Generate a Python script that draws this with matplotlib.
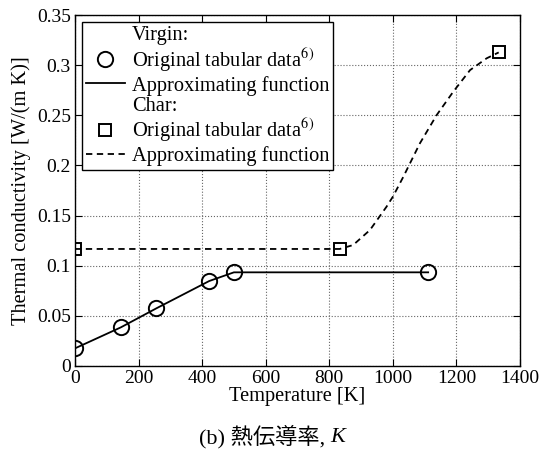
import matplotlib
matplotlib.use('Agg')
import matplotlib.pyplot as plt
from matplotlib.lines import Line2D
from matplotlib.ticker import FuncFormatter

plt.rcParams['font.family'] = ['Liberation Serif', 'Noto Sans CJK JP']
plt.rcParams['mathtext.fontset'] = 'stix'
plt.rcParams['font.size'] = 14.7

# virgin material: tabular data and approximating function
virgin_T = [0, 144, 256, 422, 500, 1111]
virgin_k = [0.0176, 0.0385, 0.0575, 0.0847, 0.0934, 0.0934]

# char: tabular data
char_T = [0, 833, 1333]
char_k = [0.1167, 0.1167, 0.3127]

# char approximating function
char_fit_T = [0, 833, 875, 928, 980, 1000, 1033, 1085, 1138, 1190, 1243, 1295, 1333]
char_fit_k = [0.1167, 0.1167, 0.1206, 0.1356, 0.1588, 0.1688, 0.1887, 0.222,
              0.2503, 0.2735, 0.2951, 0.3068, 0.3127]

fig = plt.figure(figsize=(5.41, 4.53), dpi=100)
ax = fig.add_axes([75/541, 1 - 366/453, 445/541, 351/453])

ax.plot(virgin_T, virgin_k, '-', color='k', lw=1.3)
ax.plot(virgin_T, virgin_k, 'o', mfc='none', mec='k', ms=11, mew=1.4)
ax.plot(char_fit_T, char_fit_k, '--', color='k', lw=1.3, dashes=(3.5, 2.5))
ax.plot(char_T, char_k, 's', mfc='none', mec='k', ms=8, mew=1.4)

ax.set_xlim(0, 1400)
ax.set_ylim(0, 0.35)
ax.set_xticks(range(0, 1401, 200))
ax.set_yticks([0, 0.05, 0.1, 0.15, 0.2, 0.25, 0.3, 0.35])
ax.yaxis.set_major_formatter(FuncFormatter(lambda v, p: '%g' % round(v, 2)))
ax.tick_params(direction='in', top=True, right=True, length=5, width=0.8,
               pad=3, labelsize=14)
ax.grid(True, ls=':', color='0.4', lw=0.8)
for s in ax.spines.values():
    s.set_linewidth(1.0)

ax.set_xlabel('Temperature [K]', labelpad=0)
ax.set_ylabel('Thermal conductivity [W/(m K)]', labelpad=4)

blank = Line2D([], [], ls='none', marker='none')
handles = [
    blank,
    Line2D([], [], ls='none', marker='o', mfc='none', mec='k', ms=11, mew=1.4),
    Line2D([], [], ls='-', color='k', lw=1.3),
    blank,
    Line2D([], [], ls='none', marker='s', mfc='none', mec='k', ms=8, mew=1.4),
    Line2D([], [], ls='--', color='k', lw=1.3, dashes=(3.5, 2.5)),
]
labels = ['Virgin:', 'Original tabular data$^{6)}$', 'Approximating function',
          'Char:', 'Original tabular data$^{6)}$', 'Approximating function']
leg = ax.legend(handles, labels, loc='upper left', bbox_to_anchor=(0.015, 0.98),
                fancybox=False, framealpha=1, edgecolor='k', borderpad=0.2,
                labelspacing=0.05, handlelength=1.9, handletextpad=0.35,
                borderaxespad=0)
leg.get_frame().set_linewidth(1.0)

# caption: roman part plus italic K, centred as one line
cap_y = 1 - 437/453
t1 = fig.text(0, cap_y, '(b) 熱伝導率, ', ha='left', va='center', fontsize=16)
t2 = fig.text(0, cap_y, 'K', ha='left', va='center', fontsize=16,
              style='italic')
r = fig.canvas.get_renderer()
w1 = t1.get_window_extent(r).width / fig.bbox.width
w2 = t2.get_window_extent(r).width / fig.bbox.width
x0 = 272/541 - (w1 + w2) / 2
t1.set_x(x0)
t2.set_x(x0 + w1)

fig.savefig('out.png', dpi=100)
